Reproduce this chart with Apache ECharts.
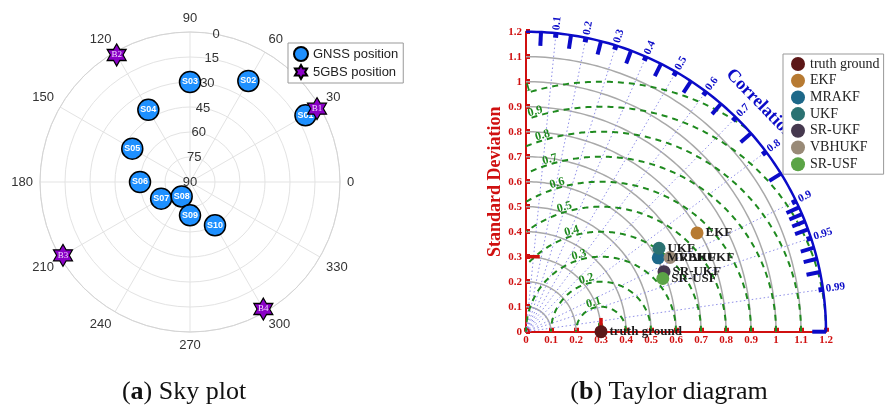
<!DOCTYPE html>
<html>
<head>
<meta charset="utf-8">
<script src="https://cdn.jsdelivr.net/npm/echarts@6/dist/echarts.min.js"></script>
<style>
  html, body { margin: 0; background: #fff; }
  #chart { width: 886px; height: 412px; }
</style>
</head>
<body>
<div id="chart"></div>
<script>
// sky plot: azimuth (deg) / elevation (deg)
const gnssNames = ["S01", "S02", "S03", "S04", "S05", "S06", "S07", "S08", "S09", "S10"];
const gnssAzimuth = [30, 60, 90, 120, 150, 180, 210, 240, 270, 300];
const gnssElevation = [10, 20, 30, 40, 50, 60, 70, 80, 70, 60];
const bsNames = ["B1", "B2", "B3", "B4"];
const bsAzimuth = [30, 120, 210, 300];
const bsElevation = [2, 2, 2, 2];

// taylor diagram
const modelNames = ["truth ground", "EKF", "MRAKF", "UKF", "SR-UKF", "VBHUKF", "SR-USF"];
const modelStd = [0.30, 0.79, 0.606, 0.628, 0.602, 0.648, 0.587];
const modelCorr = [1.0, 0.866, 0.873, 0.847, 0.917, 0.889, 0.932];
const refStd = 0.3;
const stdMax = 1.2;
const stdLevels = [0.1, 0.2, 0.3, 0.4, 0.5, 0.6, 0.7, 0.8, 0.9, 1.0, 1.1];
const rmsLevels = [0, 0.1, 0.2, 0.3, 0.4, 0.5, 0.6, 0.7, 0.8, 0.9, 1];
const corrMajor = [0.1, 0.2, 0.3, 0.4, 0.5, 0.6, 0.7, 0.8, 0.9, 0.95, 0.99];
const corrMinor = [0.05, 0.15, 0.25, 0.35, 0.45, 0.55, 0.65, 0.75, 0.85,
                   0.91, 0.92, 0.93, 0.94, 0.96, 0.97, 0.98, 1.0];

const modelColors = ["#5c1717", "#b77a32", "#1d6889", "#2b7272", "#46394f", "#998a77", "#5ba446"];
const serif = '"Liberation Serif", "Times New Roman", serif';
const sans = '"Liberation Sans", Arial, sans-serif';
const red = "#d01010";
const blue = "#0b0bc8";
const green = "#1f8a1f";
const deg = Math.PI / 180;
const starPath = "path://M0,-10L2.89,-5L8.66,-5L5.77,0L8.66,5L2.89,5L0,10L-2.89,5L-8.66,5L-5.77,0L-8.66,-5L-2.89,-5Z";

// angle axis runs 90..450 so 90 sits on top
const toAngle = (a) => (a < 90 ? a + 360 : a);
const toXY = (s, c) => [s * c, s * Math.sqrt(Math.max(0, 1 - c * c))];

function seg(api, p0, p1, color, width, dash) {
  const a = api.coord(p0);
  const b = api.coord(p1);
  return {
    type: "line",
    shape: { x1: a[0], y1: a[1], x2: b[0], y2: b[1] },
    style: { stroke: color, lineWidth: width, lineDash: dash || null, fill: "none" },
  };
}

function taylorCustom(data, renderItem, z) {
  return {
    type: "custom",
    coordinateSystem: "cartesian2d",
    xAxisIndex: 0,
    yAxisIndex: 0,
    silent: true,
    z: z || 2,
    data: data.map((v) => [v, 0]),
    renderItem,
  };
}

const chart = echarts.init(document.getElementById("chart"));

const options = {
  animation: false,
  backgroundColor: "#fff",
  polar: [
    { center: [190, 182], radius: 150 },
    { center: [190, 182], radius: 150 },
  ],
  angleAxis: [
    {
      polarIndex: 0,
      type: "value",
      min: 90,
      max: 450,
      interval: 30,
      startAngle: 90,
      clockwise: false,
      axisLine: { lineStyle: { color: "#d4d4d4", width: 1 } },
      axisTick: { show: false },
      axisLabel: {
        margin: 7,
        color: "#333",
        fontSize: 13,
        fontFamily: sans,
        formatter: (v) => String(v % 360),
      },
      splitLine: { lineStyle: { color: "#e3e3e3", width: 1 } },
    },
    {
      // only used to place the elevation labels along the 80 deg ray
      polarIndex: 1,
      type: "value",
      min: 0,
      max: 360,
      startAngle: 80,
      clockwise: false,
      show: false,
    },
  ],
  radiusAxis: [
    {
      polarIndex: 0,
      type: "value",
      min: 0,
      max: 90,
      interval: 15,
      inverse: true,
      axisLine: { show: false },
      axisTick: { show: false },
      axisLabel: { show: false },
      splitLine: { lineStyle: { color: "#e3e3e3", width: 1 } },
    },
    {
      polarIndex: 1,
      type: "value",
      min: 0,
      max: 90,
      interval: 15,
      inverse: true,
      axisLine: { show: false },
      axisTick: { show: false },
      splitLine: { show: false },
      axisLabel: {
        margin: 0,
        align: "center",
        verticalAlign: "middle",
        color: "#333",
        fontSize: 13,
        fontFamily: sans,
      },
    },
  ],
  grid: {
    left: 526,
    top: 31.7,
    width: 300,
    height: 300,
    outerBoundsMode: "none",
  },
  xAxis: {
    type: "value",
    min: 0,
    max: 1.2,
    interval: 0.1,
    axisLine: { lineStyle: { color: red, width: 2 } },
    axisTick: { inside: true, length: 4, lineStyle: { color: red, width: 5 } },
    axisLabel: { color: red, fontFamily: serif, fontWeight: "bold", fontSize: 11, margin: 3 },
    splitLine: { show: false },
  },
  yAxis: {
    type: "value",
    min: 0,
    max: 1.2,
    interval: 0.1,
    name: "Standard Deviation",
    nameLocation: "middle",
    nameGap: 22,
    nameTextStyle: { color: red, fontFamily: serif, fontWeight: "bold", fontSize: 18 },
    axisLine: { lineStyle: { color: red, width: 2 } },
    axisTick: { inside: true, length: 4, lineStyle: { color: red, width: 5 } },
    axisLabel: { color: red, fontFamily: serif, fontWeight: "bold", fontSize: 11, margin: 4 },
    splitLine: { show: false },
  },
  legend: [
    {
      data: ["GNSS position", "5GBS position"],
      orient: "vertical",
      left: 288,
      top: 43,
      padding: [3, 5, 3, 5],
      itemWidth: 14,
      itemHeight: 14,
      itemGap: 2,
      textStyle: { fontSize: 13, fontFamily: sans, color: "#222" },
      borderColor: "#999",
      borderWidth: 1,
      backgroundColor: "#fff",
      z: 10,
    },
    {
      data: modelNames,
      orient: "vertical",
      left: 783,
      top: 54,
      padding: [3, 4, 3, 8],
      itemWidth: 14,
      itemHeight: 14,
      itemGap: 2.7,
      textStyle: { fontSize: 14, fontFamily: serif, color: "#222" },
      borderColor: "#999",
      borderWidth: 1,
      backgroundColor: "#fff",
      z: 10,
    },
  ],
  graphic: [
    {
      type: "text",
      x: 760,
      y: 104,
      rotation: -0.8,
      z: 1,
      style: {
        text: "Correlation",
        fill: blue,
        font: 'bold 18px "Liberation Serif", serif',
        align: "center",
        verticalAlign: "middle",
      },
    },
    {
      type: "text",
      x: 184,
      y: 392,
      style: {
        text: "({b|a}) Sky plot",
        fill: "#111",
        font: '26px "Liberation Serif", serif',
        align: "center",
        verticalAlign: "middle",
        rich: { b: { fontWeight: "bold", fontSize: 26, fontFamily: serif, fill: "#111" } },
      },
    },
    {
      type: "text",
      x: 669,
      y: 392,
      style: {
        text: "({b|b}) Taylor diagram",
        fill: "#111",
        font: '26px "Liberation Serif", serif',
        align: "center",
        verticalAlign: "middle",
        rich: { b: { fontWeight: "bold", fontSize: 26, fontFamily: serif, fill: "#111" } },
      },
    },
  ],
  series: [
    // sky plot
    {
      name: "GNSS position",
      type: "scatter",
      coordinateSystem: "polar",
      polarIndex: 0,
      symbol: "circle",
      symbolSize: 21,
      itemStyle: { color: "#1e90ff", borderColor: "#000", borderWidth: 1.5, opacity: 1 },
      label: {
        show: true,
        position: "inside",
        formatter: "{b}",
        color: "#fff",
        fontSize: 9,
        fontWeight: "bold",
        fontFamily: sans,
      },
      data: gnssNames.map((n, i) => ({ name: n, value: [gnssElevation[i], toAngle(gnssAzimuth[i])] })),
      z: 3,
    },
    {
      name: "5GBS position",
      type: "scatter",
      coordinateSystem: "polar",
      polarIndex: 0,
      symbol: starPath,
      symbolSize: [19, 22],
      itemStyle: { color: "#8a00c6", borderColor: "#000", borderWidth: 1.2, opacity: 1 },
      label: {
        show: true,
        position: "inside",
        formatter: "{b}",
        color: "#f3dcff",
        fontSize: 9,
        fontFamily: serif,
      },
      data: bsNames.map((n, i) => ({ name: n, value: [bsElevation[i], toAngle(bsAzimuth[i])] })),
      z: 4,
    },

    // taylor: std arcs
    taylorCustom(stdLevels, (p, api) => {
      const r = api.value(0);
      const pts = [];
      for (let a = 0; a <= 90; a += 1) pts.push(api.coord([r * Math.cos(a * deg), r * Math.sin(a * deg)]));
      return { type: "polyline", shape: { points: pts }, style: { stroke: "#a9a9a9", lineWidth: 1.5, fill: "none" } };
    }),
    // correlation rays
    taylorCustom(corrMajor, (p, api) => {
      const c = api.value(0);
      return seg(api, [0, 0], toXY(stdMax, c), "#8f8fe8", 1, [1.5, 2.5]);
    }),
    // rms circles around the reference
    taylorCustom(rmsLevels, (p, api) => {
      const r = api.value(0);
      const children = [];
      if (r > 0) {
        const pts = [];
        for (let a = 0; a <= 180; a += 0.5) {
          const x = refStd + r * Math.cos(a * deg);
          const y = r * Math.sin(a * deg);
          if (x >= 0 && Math.hypot(x, y) <= stdMax) pts.push(api.coord([x, y]));
        }
        children.push({
          type: "polyline",
          shape: { points: pts },
          style: { stroke: green, lineWidth: 2, lineDash: [6, 5], fill: "none" },
        });
      }
      const lp = api.coord([refStd + r * Math.cos(107 * deg), r * Math.sin(107 * deg)]);
      children.push({
        type: "text",
        x: lp[0],
        y: lp[1] - 5,
        rotation: 0.28,
        style: {
          text: String(r),
          fill: green,
          font: 'bold 12px "Liberation Serif", serif',
          align: "center",
          verticalAlign: "middle",
        },
      });
      return { type: "group", children };
    }, 3),
    // outer correlation arc
    taylorCustom([stdMax], (p, api) => {
      const r = api.value(0);
      const pts = [];
      for (let a = 0; a <= 90; a += 1) pts.push(api.coord([r * Math.cos(a * deg), r * Math.sin(a * deg)]));
      return { type: "polyline", shape: { points: pts }, style: { stroke: blue, lineWidth: 2.5, fill: "none" } };
    }, 4),
    // minor correlation ticks
    taylorCustom(corrMinor, (p, api) => {
      const c = api.value(0);
      return seg(api, toXY(stdMax - 0.055, c), toXY(stdMax, c), blue, 4);
    }, 4),
    // major correlation ticks + labels
    taylorCustom(corrMajor, (p, api) => {
      const c = api.value(0);
      const th = Math.acos(c);
      const lp = api.coord(toXY(stdMax + 0.012, c));
      return {
        type: "group",
        children: [
          seg(api, toXY(stdMax - 0.018, c), toXY(stdMax, c), blue, 5),
          {
            type: "text",
            x: lp[0],
            y: lp[1],
            rotation: th,
            style: {
              text: String(c),
              fill: blue,
              font: 'bold 11px "Liberation Serif", serif',
              align: "left",
              verticalAlign: "middle",
            },
          },
        ],
      };
    }, 4),
    // reference std marks on both axes
    taylorCustom([refStd], (p, api) => {
      const r = api.value(0);
      return {
        type: "group",
        children: [
          seg(api, [0, r], [0.055, r], red, 3.5),
          seg(api, [r, 0], [r, 0.055], red, 3.5),
        ],
      };
    }, 4),

    // model points
    ...modelNames.map((name, i) => ({
      name,
      type: "scatter",
      xAxisIndex: 0,
      yAxisIndex: 0,
      symbol: "circle",
      symbolSize: 13,
      itemStyle: { color: modelColors[i], opacity: 1 },
      label: {
        show: true,
        position: "right",
        distance: 2,
        formatter: () => name,
        color: "#1c1c1c",
        fontFamily: serif,
        fontWeight: "bold",
        fontSize: 13,
      },
      data: [toXY(modelStd[i], modelCorr[i])],
      z: 5,
    })),
  ],
};

chart.setOption(options);

window.addEventListener("resize", () => {
  chart.resize();
});
</script>
</body>
</html>
